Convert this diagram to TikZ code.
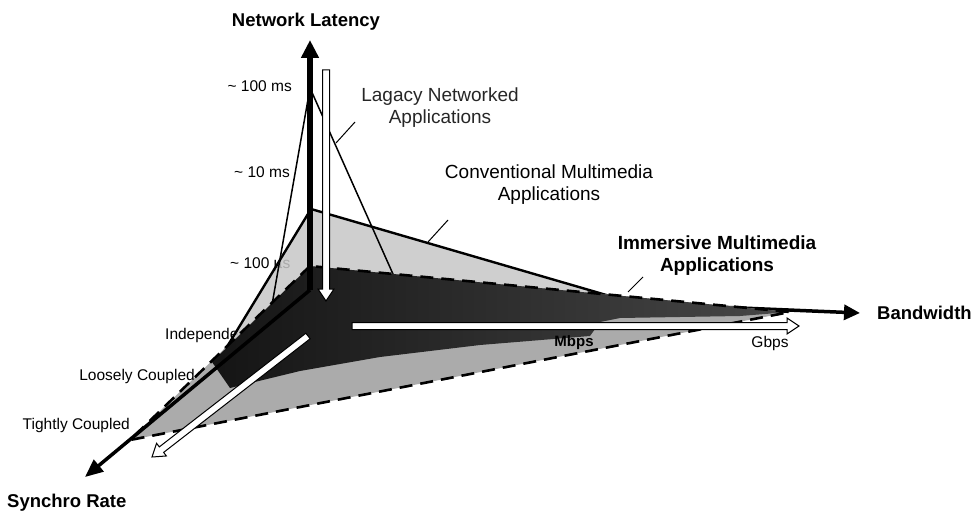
\documentclass[tikz,border=0pt]{standalone}
\usepackage{fontspec}
\setmainfont{Liberation Sans}
\usetikzlibrary{calc,arrows.meta}
\newcommand{\hollowarrow}[2]{%
  \path ($(#2)!12pt!(#1)$) coordinate (hb);
  \draw[hollowstyle] ($(#1)!3.5pt!90:(#2)$) -- ($(hb)!3.5pt!90:(#2)$) -- ($(hb)!8pt!90:(#2)$) -- (#2) -- ($(hb)!8pt!-90:(#2)$) -- ($(hb)!3.5pt!-90:(#2)$) -- ($(#1)!3.5pt!-90:(#2)$) -- cycle;}
\begin{document}
\begin{tikzpicture}[x=1pt,y=-1pt,
  biglbl/.style={font=\fontsize{19}{22}\selectfont,align=center,inner sep=0pt},
  boldlbl/.style={font=\bfseries\fontsize{19}{22}\selectfont,align=center,inner sep=0pt},
  axislbl/.style={font=\bfseries\fontsize{18.5}{21}\selectfont,inner sep=0pt},
  smalllbl/.style={font=\fontsize{15.5}{18}\selectfont,inner sep=0pt},
  convfill/.style={fill=black!22,fill opacity=0.85},
  convedge/.style={draw=black,line width=2.4pt,line join=round},
  legacyedge/.style={draw=black,line width=1.5pt,line join=round},
  immlight/.style={fill=black!33},
  immdark/.style={left color=black!92,right color=black!72},
  immedge/.style={draw=black,line width=2.6pt,dash pattern=on 13pt off 8pt},
  axisline/.style={draw=black,line width=3.5pt},
  hollowstyle/.style={draw=black,fill=white,line width=1pt,line join=miter},
  leader/.style={draw=black,line width=1pt}]
\useasboundingbox (0,0) rectangle (979,513);

% axes end points
\coordinate (O) at (310,290);
\coordinate (LatTip) at (310,40);
\coordinate (BwTip) at (860,313);
\coordinate (SyTip) at (85,477);
% legacy
\coordinate (LA) at (310,88);
\coordinate (LS) at (266,339);
\coordinate (LB) at (401,292);
% conventional
\coordinate (CL) at (311,209);
\coordinate (CS) at (208,378);
\coordinate (CB) at (620,299);
% immersive
\coordinate (IL) at (310,266);
\coordinate (IS) at (130,440);
\coordinate (IB) at (790,312);

% labels partly covered by the shapes
\node[smalllbl,anchor=west] (us) at (230,265) {\textasciitilde{} 100 µs};
\node[smalllbl,anchor=west] (indep) at (165,335) {Independent};

% bandwidth axis (behind the shapes)
\draw[axisline,-{Triangle[length=16pt,width=15pt]}] (O) -- (BwTip);

% conventional multimedia applications
\fill[convfill] (CL) -- (CS) -- (CB) -- cycle;
% legacy networked applications
\draw[legacyedge] (LA) -- (LS) -- (LB) -- cycle;
\draw[convedge] (CS) -- (CL) -- (CB);

% immersive multimedia applications
\fill[immlight] (IL) -- (IS) -- (IB) -- cycle;
\shade[immdark] (IL) -- (IB) -- (740,316) -- (620,318) -- (600,322) -- (590,336)
   -- (480,345) -- (380,357) -- (300,371) -- (230,388) -- (212,362) -- cycle;
\draw[immedge] (IL) -- (IS) -- (IB) -- cycle;

% latency and synchro axes
\draw[axisline,line width=5.3pt,-{Triangle[length=18pt,width=17pt]}] (O) -- (LatTip);
\draw[axisline,-{Triangle[length=18pt,width=15pt]}] (O) -- (SyTip);

% hollow arrows
\coordinate (hvA) at (326,70);
\coordinate (hvB) at (326,301);
\coordinate (hbA) at (352,326);
\coordinate (hbB) at (799,326);
\coordinate (hsA) at (308,336);
\coordinate (hsB) at (152,457);
\hollowarrow{hvA}{hvB}
\hollowarrow{hbA}{hbB}
\hollowarrow{hsA}{hsB}

% leader lines
\coordinate (lgA) at (355,122); \coordinate (lgB) at (336,143);
\coordinate (cvA) at (448,220); \coordinate (cvB) at (428,242);
\coordinate (imA) at (643,277); \coordinate (imB) at (628,292);
\draw[leader] (lgA) -- (lgB);
\draw[leader] (cvA) -- (cvB);
\draw[leader] (imA) -- (imB);

% labels
\node[axislbl] (lat) at (306,22) {Network Latency};
\node[axislbl,anchor=west] (bw) at (877,313) {Bandwidth};
\node[axislbl,anchor=west] (sy) at (7,503) {Synchro Rate};
\node[smalllbl,anchor=east] (ms100) at (292,86) {\textasciitilde{} 100 ms};
\node[smalllbl,anchor=east] (ms10) at (290,172) {\textasciitilde{} 10 ms};
\node[smalllbl,anchor=east] (loose) at (195,376) {Loosely Coupled};
\node[smalllbl,anchor=east] (tight) at (130,425) {Tightly Coupled};
\node[smalllbl,font=\bfseries\fontsize{15}{18}\selectfont] (mbps) at (574,343) {Mbps};
\node[smalllbl] (gbps) at (770,343) {Gbps};
\node[biglbl,text=black!85] (legacy) at (440,107.5) {Lagacy Networked\\Applications};
\node[biglbl] (conv) at (549,184.5) {Conventional Multimedia\\Applications};
\node[boldlbl] (imm) at (717,256) {Immersive Multimedia\\Applications};
\end{tikzpicture}
\end{document}
